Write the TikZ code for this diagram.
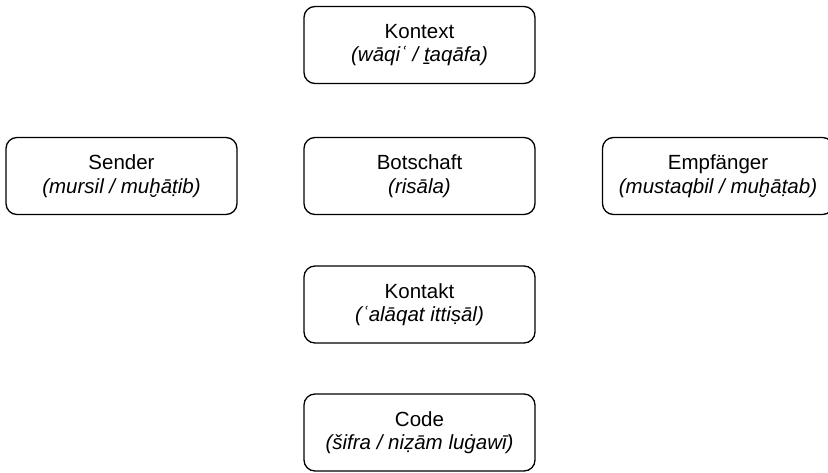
\documentclass[tikz,border=0pt]{standalone}
\usepackage{fontspec}
\setmainfont{Liberation Sans}
\begin{document}
\begin{tikzpicture}[x=1pt,y=-1pt,
  box/.style={draw=black, line width=1.3pt, rounded corners=11pt,
    minimum width=231pt, minimum height=77pt, align=center,
    inner sep=0pt, font=\fontsize{20.5}{23.5}\selectfont}]
\useasboundingbox (0,0) rectangle (828,472);
\node[box] (kontext) at (419.5,45) {Kontext\\\textit{(wāqiʿ / ṯaqāfa)}};
\node[box] (sender) at (121.5,176) {Sender\\\textit{(mursil / muḫāṭib)}};
\node[box] (botschaft) at (419.5,176) {Botschaft\\\textit{(risāla)}};
\node[box] (empf) at (718,176) {Empfänger\\\textit{(mustaqbil / muḫāṭab)}};
\node[box] (kontakt) at (419.5,304.5) {Kontakt\\\textit{(ʿalāqat ittiṣāl)}};
\node[box] (code) at (419.5,432.5) {Code\\\textit{(šifra / niẓām luġawī)}};
\end{tikzpicture}
\end{document}
